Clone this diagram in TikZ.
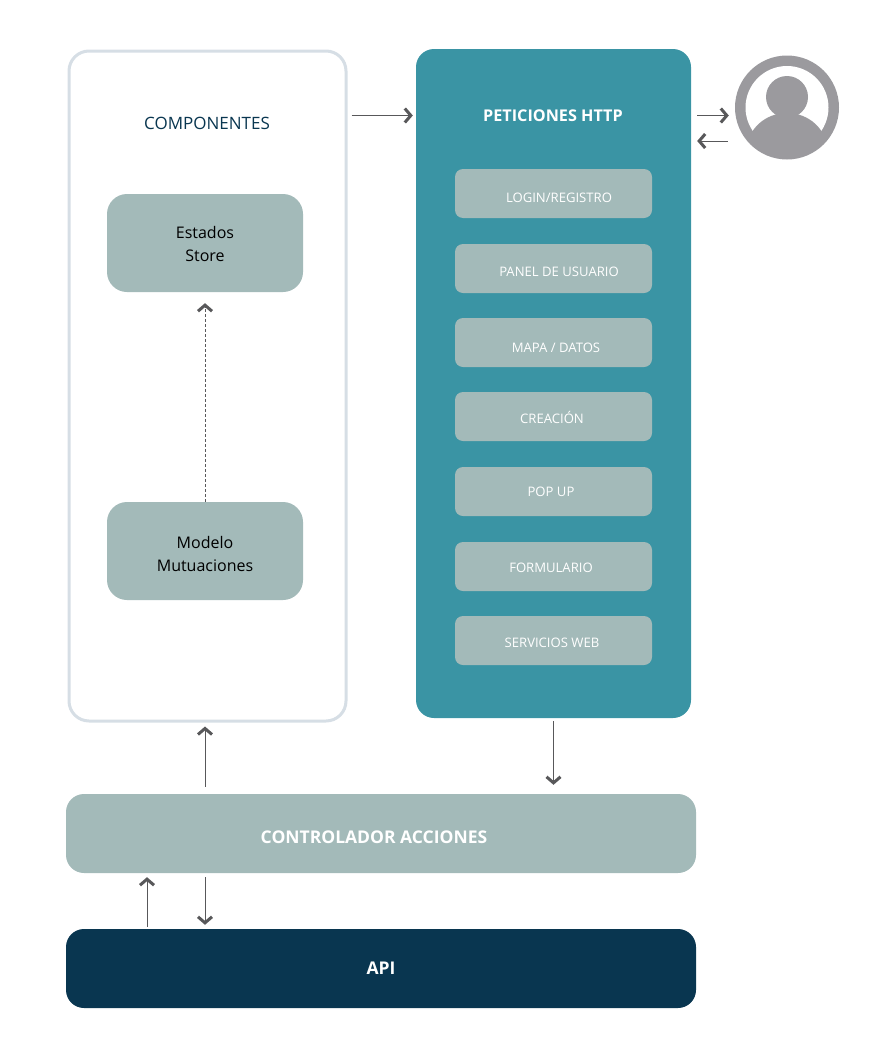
\documentclass[tikz,border=0pt]{standalone}
\usepackage{fontspec}
\setmainfont{Open Sans}
\usetikzlibrary{arrows.meta}
\definecolor{turquesa}{HTML}{3A94A4}
\definecolor{salvia}{HTML}{A3BAB9}
\definecolor{marino}{HTML}{093650}
\definecolor{borde}{HTML}{D6DEE5}
\definecolor{gris}{HTML}{9B9A9E}
\definecolor{flecha}{HTML}{58585A}

\begin{document}
\begin{tikzpicture}[
      x=1pt, y=-1pt,
      contenedor/.style={draw=borde, line width=3pt, fill=white, rounded corners=20pt,
                         minimum width=277pt, minimum height=670pt},
      panel/.style={fill=turquesa, rounded corners=18pt,
                    minimum width=275pt, minimum height=669pt},
      bloque/.style={fill=salvia, rounded corners=20pt,
                     minimum width=196pt, minimum height=98pt},
      bloquetxt/.style={align=center, inner sep=0pt, font=\fontsize{16}{23}\selectfont},
      vista/.style={fill=salvia, rounded corners=8pt, minimum width=197pt, minimum height=49pt},
      vistatxt/.style={text=white, font=\fontsize{13.1}{15}\selectfont, inner sep=0pt},
      barra/.style={rounded corners=18pt, text=white, font=\fontsize{17.5}{21}\selectfont\bfseries,
                    minimum width=630pt, minimum height=79pt},
      titulo/.style={font=\fontsize{17}{20}\selectfont, inner sep=0pt},
      flujo/.style={-{Straight Barb[length=6pt,width=14pt,line width=3pt]}, draw=flecha, line width=1pt}
    ]
    \useasboundingbox (0,0) rectangle (872,1044);

    \node[contenedor] (comp) at (207.5,386) {};
    \node[titulo, text=marino] (tcomp) at (207,123) {COMPONENTES};
    \node[bloque] (estados) at (205,243) {};
    \node[bloquetxt] (testados) at (205,243.5) {Estados\\ Store};
    \node[bloque] (modelo) at (205,551) {};
    \node[bloquetxt] (tmodelo) at (205,553.5) {Modelo\\ Mutuaciones};

    \node[panel] (http) at (553.5,383.5) {};
    \node[titulo, text=white, font=\fontsize{16.2}{18}\selectfont\bfseries] (thttp) at (553,115.5) {PETICIONES HTTP};
    \node[vista] (login) at (553.5,193.5) {};
    \node[vista] (usuarios) at (553.5,268.5) {};
    \node[vista] (mapa) at (553.5,342.5) {};
    \node[vista] (creacion) at (553.5,416.5) {};
    \node[vista] (popup) at (553.5,491.5) {};
    \node[vista] (formulario) at (553.5,566.5) {};
    \node[vista] (servicios) at (553.5,640.5) {};
    \node[vistatxt] (tlogin) at (559,198) {LOGIN/REGISTRO};
    \node[vistatxt] (tusuarios) at (559,272) {PANEL DE USUARIO};
    \node[vistatxt] (tmapa) at (556,348) {MAPA / DATOS};
    \node[vistatxt] (tcreacion) at (552,417.5) {CREACIÓN};
    \node[vistatxt] (tpopup) at (551,492) {POP UP};
    \node[vistatxt] (tformulario) at (551,568) {FORMULARIO};
    \node[vistatxt] (tservicios) at (552,643) {SERVICIOS WEB};

    \node[barra, fill=salvia] (control) at (381,833.5) {};
    \node[text=white, font=\fontsize{17.5}{21}\selectfont\bfseries, inner sep=0pt] (tcontrol) at (374,837.5) {CONTROLADOR ACCIONES};
    \node[barra, fill=marino] (api) at (381,968.5) {API};

    \node[circle, fill=gris, minimum size=104pt, inner sep=0pt] (usuario) at (787,107.5) {};
    \begin{scope}
      \fill[white] (usuario) circle (41.5pt);
      \clip (usuario) circle (43pt);
      \fill[gris] (787,150) ellipse (40pt and 37pt);
      \fill[gris] (740,149) rectangle (834,160);
    \end{scope}
    \node[circle, fill=gris, minimum size=42pt, inner sep=0pt] (cabeza) at (787,97) {};

    \coordinate (ida) at (787,115.5);
    \coordinate (vuelta) at (787,141);
    \coordinate (subida) at (147,900);

    \draw[flujo, shorten <=4pt, shorten >=3pt] (thttp -| comp.east) -- (thttp -| http.west);
    \draw[flujo, shorten <=6pt, shorten >=6pt] (ida -| http.east) -- (ida -| usuario.west);
    \draw[flujo, shorten <=7pt, shorten >=6pt] (vuelta -| usuario.west) -- (vuelta -| http.east);
    \draw[flujo, dashed, dash pattern=on 3pt off 2pt, line width=.8pt] (modelo.north) -- ([yshift=-11pt]estados.south);
    \draw[flujo, shorten <=7pt, shorten >=4pt] (estados.south |- control.north) -- (estados.south |- comp.south);
    \draw[flujo, shorten <=3pt, shorten >=9pt] (http.south) -- (http.south |- control.north);
    \draw[flujo, shorten <=2pt, shorten >=4pt] (subida |- api.north) -- (subida |- control.south);
    \draw[flujo, shorten <=4pt, shorten >=4pt] (estados.south |- control.south) -- (estados.south |- api.north);
  \end{tikzpicture}
\end{document}
